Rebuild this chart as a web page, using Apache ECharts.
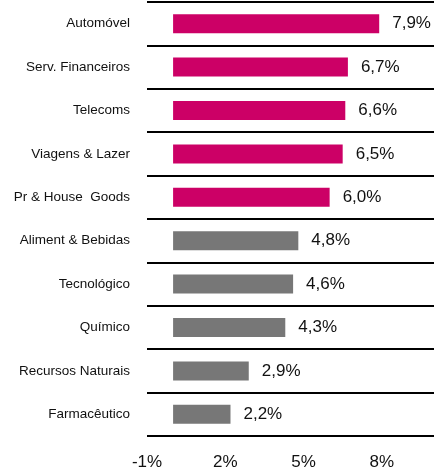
<!DOCTYPE html>
<html>
<head>
<meta charset="utf-8">
<script src="https://cdn.jsdelivr.net/npm/echarts@6/dist/echarts.min.js"></script>
<style>
html,body{margin:0;padding:0;background:#fff;}
#chart{width:437px;height:471px;}
</style>
</head>
<body>
<div id="chart"></div>
<script>
var categories = ['Automóvel','Serv. Financeiros','Telecoms','Viagens & Lazer','Pr & House  Goods','Aliment & Bebidas','Tecnológico','Químico','Recursos Naturais','Farmacêutico'];
var values = [7.9, 6.7, 6.6, 6.5, 6.0, 4.8, 4.6, 4.3, 2.9, 2.2];
var groups = ['top','top','top','top','top','rest','rest','rest','rest','rest'];
var tickValues = [-1, 2, 5, 8];
var tickLabels = ['-1%', '2%', '5%', '8%'];

var groupColors = { top: '#CC0066', rest: '#777777' };
var font = 'Liberation Sans, Arial, sans-serif';

var chart = echarts.init(document.getElementById('chart'));
chart.setOption({
  animation: false,
  backgroundColor: '#fff',
  grid: { left: 147, right: 2, top: 2, bottom: 35, containLabel: false },
  xAxis: {
    type: 'value',
    min: -1,
    max: 10,
    interval: 3,
    axisLine: { show: false },
    axisTick: { show: false },
    splitLine: { show: false },
    axisLabel: {
      margin: 18,
      fontFamily: font,
      fontSize: 17,
      color: '#111',
      formatter: function (v) {
        for (var i = 0; i < tickValues.length; i++) {
          if (Math.abs(tickValues[i] - v) < 1e-6) return tickLabels[i];
        }
        return '';
      }
    }
  },
  yAxis: {
    type: 'category',
    data: categories,
    inverse: true,
    axisLine: { show: false },
    axisTick: { show: false },
    splitLine: { show: true, lineStyle: { color: '#000', width: 2 } },
    axisLabel: {
      margin: 17,
      fontFamily: font,
      fontSize: 13.5,
      color: '#111'
    }
  },
  series: [{
    type: 'bar',
    data: values.map(function (v, i) {
      return { value: v, itemStyle: { color: groupColors[groups[i]] } };
    }),
    barWidth: 19,
    label: {
      show: true,
      position: 'right',
      distance: 13,
      fontFamily: font,
      fontSize: 17,
      color: '#111',
      formatter: function (p) { return p.value.toFixed(1).replace('.', ',') + '%'; }
    }
  }]
});
</script>
</body>
</html>
